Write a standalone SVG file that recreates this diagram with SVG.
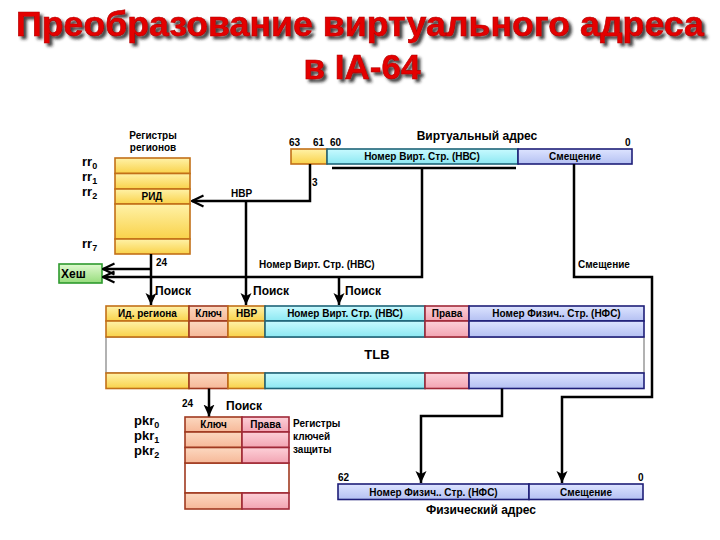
<svg xmlns="http://www.w3.org/2000/svg" width="720" height="540" viewBox="0 0 720 540">
<defs>
<linearGradient id="gY" x1="0" y1="0" x2="0" y2="1"><stop offset="0" stop-color="#FFF2A8"/><stop offset="1" stop-color="#F9D24A"/></linearGradient>
<linearGradient id="gS" x1="0" y1="0" x2="0" y2="1"><stop offset="0" stop-color="#FCD8C0"/><stop offset="1" stop-color="#F6B898"/></linearGradient>
<linearGradient id="gC" x1="0" y1="0" x2="0" y2="1"><stop offset="0" stop-color="#C8FAFF"/><stop offset="1" stop-color="#8CE8F2"/></linearGradient>
<linearGradient id="gP" x1="0" y1="0" x2="0" y2="1"><stop offset="0" stop-color="#FDD0D8"/><stop offset="1" stop-color="#F2A4B2"/></linearGradient>
<linearGradient id="gL" x1="0" y1="0" x2="0" y2="1"><stop offset="0" stop-color="#DDE4FF"/><stop offset="1" stop-color="#B4C0F2"/></linearGradient>
<linearGradient id="gG" x1="0" y1="0" x2="0" y2="1"><stop offset="0" stop-color="#E0FAD0"/><stop offset="1" stop-color="#96DC7C"/></linearGradient>
<filter id="sh" x="-5%" y="-20%" width="110%" height="150%"><feDropShadow dx="3" dy="3" stdDeviation="1.5" flood-color="#202020" flood-opacity="0.85"/></filter>
<marker id="aDown" markerUnits="userSpaceOnUse" markerWidth="12" markerHeight="12" viewBox="0 0 12 12" refX="12" refY="6" orient="auto"><path d="M0,0.5 L12,6 L0,11.5 L3,6 z" fill="#000"/></marker>
<marker id="aOpen" markerUnits="userSpaceOnUse" markerWidth="16" markerHeight="16" viewBox="0 0 16 16" refX="14.5" refY="8" orient="auto"><path d="M3,2.5 L14.5,8 L3,13.5" fill="none" stroke="#000" stroke-width="2.2"/></marker>
</defs>
<style>
.t{font-family:"Liberation Sans",Arial,sans-serif;font-weight:bold;fill:#000}
.s10{font-size:10px}
.s9{font-size:10px}
.s12{font-size:12px}
.s13{font-size:13px}
.c{text-anchor:middle}
.title{font-family:"Liberation Sans",Arial,sans-serif;font-weight:bold;font-size:35px;fill:#E40000;stroke:#B00000;stroke-width:0.6;text-anchor:middle}
.y{fill:url(#gY);stroke:#C27018;stroke-width:1.6}
.sa{fill:url(#gS);stroke:#A03A20;stroke-width:1.6}
.cy{fill:url(#gC);stroke:#1E6478;stroke-width:1.6}
.p{fill:url(#gP);stroke:#A02838;stroke-width:1.6}
.l{fill:url(#gL);stroke:#1E1E78;stroke-width:1.6}
.ln{fill:none;stroke:#000;stroke-width:2.5}
</style>
<rect width="720" height="540" fill="#fff"/>

<g id="title" filter="url(#sh)">
<text class="title" x="360" y="36" textLength="688" lengthAdjust="spacingAndGlyphs">Преобразование виртуального адреса</text>
<text class="title" x="362" y="79">в IA-64</text>
</g>

<g id="region-registers">
<text class="t s10 c" x="153" y="139">Регистры</text>
<text class="t s10 c" x="153" y="151">регионов</text>
<rect class="y" x="115" y="158" width="75" height="15.5"/>
<rect class="y" x="115" y="173.5" width="75" height="15.5"/>
<rect class="y" x="115" y="189" width="75" height="15"/>
<rect class="y" x="115" y="204" width="75" height="35"/>
<rect class="y" x="115" y="239" width="75" height="15"/>
<text class="t s10 c" x="152" y="200">РИД</text>
<text class="t s13" x="82" y="166">rr<tspan font-size="9" dy="3">0</tspan></text>
<text class="t s13" x="82" y="181">rr<tspan font-size="9" dy="3">1</tspan></text>
<text class="t s13" x="82" y="196">rr<tspan font-size="9" dy="3">2</tspan></text>
<text class="t s13" x="82" y="248">rr<tspan font-size="9" dy="3">7</tspan></text>
</g>

<g id="hash">
<rect x="59" y="264" width="43" height="19" fill="url(#gG)" stroke="#2E9A2E" stroke-width="1.6"/>
<text class="t s12" x="61" y="278">Хеш</text>
</g>

<g id="virtual-address">
<text class="t s12 c" x="477" y="140">Виртуальный адрес</text>
<text class="t s10" x="289" y="146">63</text>
<text class="t s10" x="313" y="146">61</text>
<text class="t s10" x="330" y="146">60</text>
<text class="t s10" x="625" y="146">0</text>
<rect class="y" x="291" y="149" width="36" height="15"/>
<rect class="cy" x="327" y="149" width="191" height="15"/>
<rect class="l" x="518" y="149" width="114" height="15"/>
<text class="t s9 c" x="422" y="160">Номер Вирт. Стр. (НВС)</text>
<text class="t s9 c" x="575" y="160">Смещение</text>
</g>

<g id="tlb">
<rect x="106" y="337" width="538" height="36" fill="#fff" stroke="#999" stroke-width="1.5"/>
<rect class="y" x="106" y="306" width="83" height="15"/>
<rect class="sa" x="189" y="306" width="39" height="15"/>
<rect class="y" x="228" y="306" width="37" height="15"/>
<rect class="cy" x="265" y="306" width="160" height="15"/>
<rect class="p" x="425" y="306" width="44" height="15"/>
<rect class="l" x="469" y="306" width="175" height="15"/>
<rect class="y" x="106" y="321" width="83" height="16"/>
<rect class="sa" x="189" y="321" width="39" height="16"/>
<rect class="y" x="228" y="321" width="37" height="16"/>
<rect class="cy" x="265" y="321" width="160" height="16"/>
<rect class="p" x="425" y="321" width="44" height="16"/>
<rect class="l" x="469" y="321" width="175" height="16"/>
<rect class="y" x="106" y="373" width="83" height="15.5"/>
<rect class="sa" x="189" y="373" width="39" height="15.5"/>
<rect class="y" x="228" y="373" width="37" height="15.5"/>
<rect class="cy" x="265" y="373" width="160" height="15.5"/>
<rect class="p" x="425" y="373" width="44" height="15.5"/>
<rect class="l" x="469" y="373" width="175" height="15.5"/>
<text class="t s9 c" x="147.5" y="317">Ид. региона</text>
<text class="t s9 c" x="208.5" y="317">Ключ</text>
<text class="t s9 c" x="246.5" y="317">НВР</text>
<text class="t s9 c" x="345" y="317">Номер Вирт. Стр. (НВС)</text>
<text class="t s9 c" x="447" y="317">Права</text>
<text class="t s9 c" x="556.5" y="317">Номер Физич.. Стр. (НФС)</text>
<text class="t s13 c" x="377" y="359">TLB</text>
</g>

<g id="protection-key-registers">
<rect x="185" y="463" width="104" height="30" fill="#fff" stroke="#A03A20" stroke-width="1.6"/>
<rect class="sa" x="185" y="417" width="57" height="15"/>
<rect class="p" x="242" y="417" width="47" height="15"/>
<rect class="sa" x="185" y="432" width="57" height="15.5"/>
<rect class="p" x="242" y="432" width="47" height="15.5"/>
<rect class="sa" x="185" y="447.5" width="57" height="15.5"/>
<rect class="p" x="242" y="447.5" width="47" height="15.5"/>
<rect class="sa" x="185" y="493" width="57" height="16"/>
<rect class="p" x="242" y="493" width="47" height="16"/>
<text class="t s9 c" x="213.5" y="428">Ключ</text>
<text class="t s9 c" x="265.5" y="428">Права</text>
<text class="t s13" x="134" y="425">pkr<tspan font-size="9" dy="3">0</tspan></text>
<text class="t s13" x="134" y="440">pkr<tspan font-size="9" dy="3">1</tspan></text>
<text class="t s13" x="134" y="455">pkr<tspan font-size="9" dy="3">2</tspan></text>
<text class="t s10" x="293" y="427">Регистры</text>
<text class="t s10" x="293" y="440">ключей</text>
<text class="t s10" x="293" y="453">защиты</text>
</g>

<g id="physical-address">
<text class="t s10" x="338" y="481">62</text>
<text class="t s10" x="638" y="481">0</text>
<rect class="l" x="338" y="484" width="191" height="15.5"/>
<rect class="l" x="529" y="484" width="114" height="15.5"/>
<text class="t s9 c" x="433.5" y="495.5">Номер Физич.. Стр. (НФС)</text>
<text class="t s9 c" x="586" y="495.5">Смещение</text>
<text class="t s12 c" x="481" y="514">Физический адрес</text>
</g>

<g id="connectors">
<path class="ln" d="M332,168 H516" stroke-width="2"/>
<path class="ln" d="M310,164 V201 H192" marker-end="url(#aOpen)"/>
<path class="ln" d="M246,201 V305" marker-end="url(#aDown)"/>
<path class="ln" d="M151,254 V305" marker-end="url(#aDown)"/>
<path class="ln" d="M151,269 H103" marker-end="url(#aOpen)"/>
<path class="ln" d="M422,168 V277 H103" marker-end="url(#aOpen)"/>
<path class="ln" d="M339,277 V305" marker-end="url(#aDown)"/>
<path class="ln" d="M574,164 V277 H652 V397 H562 V483" marker-end="url(#aDown)"/>
<path class="ln" d="M209,388.5 V416.5" marker-end="url(#aDown)"/>
<path class="ln" d="M502,388.5 V416 H421 V483" marker-end="url(#aDown)"/>
<text class="t s10" x="312" y="186">3</text>
<text class="t s10" x="231" y="197">НВР</text>
<text class="t s10" x="156" y="266">24</text>
<text class="t s10" x="259" y="268">Номер Вирт. Стр. (НВС)</text>
<text class="t s10" x="578" y="268">Смещение</text>
<text class="t s12" x="155" y="295">Поиск</text>
<text class="t s12" x="253" y="295">Поиск</text>
<text class="t s12" x="345" y="295">Поиск</text>
<text class="t s10" x="182" y="407">24</text>
<text class="t s12" x="226" y="410">Поиск</text>
</g>
</svg>
